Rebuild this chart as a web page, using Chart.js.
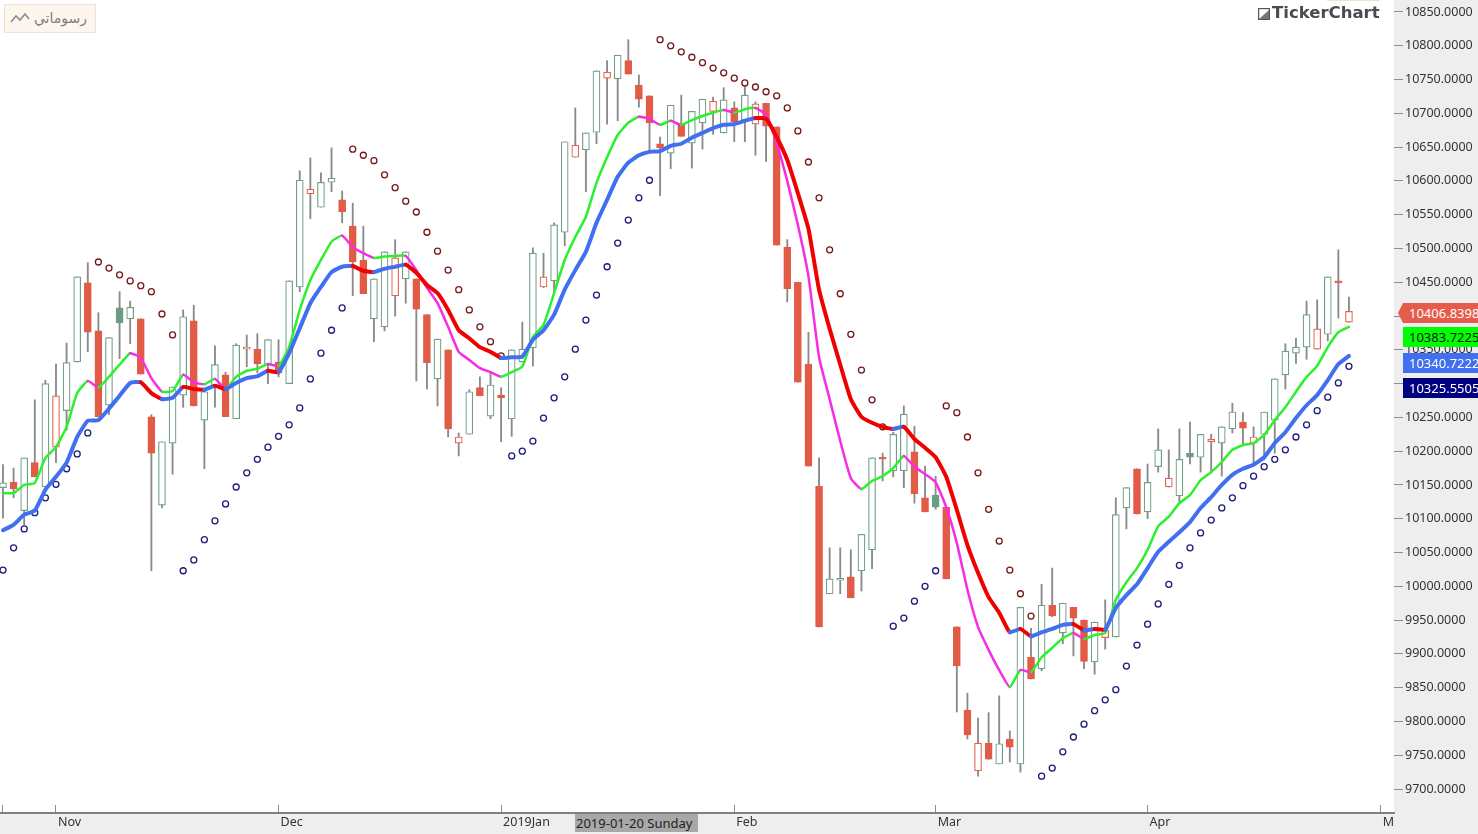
<!DOCTYPE html>
<html>
<head>
<meta charset="utf-8">
<title>TickerChart</title>
<script src="https://cdn.jsdelivr.net/npm/chart.js@4"></script>
<style>
    html, body { margin: 0; padding: 0; background: #fff; overflow: hidden; }
    #wrap { position: relative; width: 1478px; height: 834px; overflow: hidden; }
    canvas { position: absolute; left: 0; top: 0; }
    .tag {
        position: absolute; left: 1403px; width: 75px; height: 20px; line-height: 20px;
        padding-left: 6px; box-sizing: border-box; overflow: hidden; white-space: nowrap;
        font: 13px/20px "Noto Sans", sans-serif; color: #fff;
    }
    #myCharts {
        position: absolute; left: 4px; top: 4px; width: 90px; height: 27px; box-sizing: content-box;
        background: #fdf6ef; border: 1px solid #f3e2d2; color: #7d7d7d;
        font: 14px/27px "DejaVu Sans", sans-serif; text-align: right;
    }
    #myCharts span { margin-right: 8px; }
    #myCharts svg { position: absolute; left: 4px; top: 6px; }
    #logo {
        position: absolute; left: 1272px; top: 3px; color: #4b4b4b;
        font: bold 16.5px/20px "DejaVu Sans", sans-serif;
    }
    #logoIcon { position: absolute; left: 1258px; top: 8px; }
    #logoStrip { position: absolute; left: 1327px; top: 0; width: 53px; height: 1px; background: #f3e0cd; }
    #cursorDate {
        position: absolute; left: 575px; top: 814px; width: 123px; height: 18px;
        background: #a8a8a8; color: #222; white-space: nowrap; overflow: hidden;
        font: 13px/18px "Noto Sans", sans-serif; padding-left: 1px; box-sizing: border-box;
    }
</style>
</head>
<body>
<div id="wrap">
    <canvas id="chart" width="1478" height="834"></canvas>
    <div id="myCharts">
        <svg width="22" height="14" viewBox="0 0 22 14"><polyline points="2,11 7,5 11,9 16,3 20,8" fill="none" stroke="#8c8c8c" stroke-width="1.6"/></svg>
        <span dir="rtl">رسوماتي</span>
    </div>
    <svg id="logoIcon" width="12" height="12" viewBox="0 0 12 12"><rect x="0.5" y="0.5" width="11" height="11" fill="#fff" stroke="#555" stroke-width="1.4"/><polygon points="1,11 11,11 11,2" fill="#777"/></svg>
    <div id="logo">TickerChart</div>
    <div id="logoStrip"></div>
    <div id="cursorDate">2019-01-20 Sunday</div>
</div>

<script>
// Candles, left to right (g hollow green, G filled green, r filled red, R hollow red)
const candleKinds = [
    'g','r','g','r','g','R','g','g','r','r','g','G','g','r','r','g','g','g','r','g',
    'g','r','g','R','r','g','r','g','g','R','g','g','r','r','r','g','g','R','g','r',
    'r','g','r','R','g','r','g','r','g','g','g','R','g','g','R','g','g','R','g','r',
    'r','r','r','g','r','g','g','R','g','r','g','R','r','r','r','r','r','r','g','g',
    'r','g','g','r','g','g','r','r','G','r','r','r','R','r','g','r','g','r','g','r',
    'g','r','r','g','R','g','g','r','g','g','R','g','G','g','R','g','g','r','R','g',
    'g','g','g','g','R','g','r','R'
];
const opens = [
    10146,10154,10112,10183,10147,10206,10260,10332,10449,10378,10268,10412,10396,10396,10251,10120,10212,10283,10393,10246,
    10295,10313,10248,10351,10351,10328,10332,10300,10443,10581,10561,10598,10572,10533,10483,10396,10384,10430,10455,10455,
    10402,10307,10350,10212,10225,10294,10252,10283,10248,10332,10353,10443,10452,10524,10635,10646,10672,10752,10751,10778,
    10742,10726,10655,10641,10684,10656,10686,10703,10671,10708,10690,10684,10715,10680,10502,10450,10329,10148,9989,10009,
    10014,10023,10054,10191,10171,10171,10199,10131,10135,10117,9940,9817,9727,9768,9737,9774,9737,9895,9878,9972,
    9931,9969,9950,9888,9924,9925,10116,10174,10110,10177,10147,10134,10197,10191,10214,10212,10233,10243,10212,10225,
    10246,10313,10345,10354,10351,10373,10452,10391
];
const closes = [
    10153,10144,10190,10162,10300,10282,10331,10458,10376,10251,10368,10390,10413,10314,10197,10214,10295,10399,10267,10288,
    10328,10251,10357,10354,10329,10365,10316,10452,10601,10588,10598,10604,10554,10480,10433,10455,10495,10486,10495,10410,
    10331,10366,10233,10221,10288,10282,10298,10279,10350,10351,10493,10458,10535,10658,10653,10671,10763,10761,10786,10758,
    10721,10686,10649,10712,10666,10703,10721,10718,10720,10687,10727,10714,10681,10505,10440,10302,10178,9940,10011,10012,
    9983,10077,10190,10188,10225,10255,10137,10110,10117,10011,9882,9780,9768,9744,9767,9762,9969,9863,9972,9956,
    9975,9953,9889,9947,9935,10106,10146,10107,10154,10202,10160,10188,10191,10225,10218,10236,10258,10234,10221,10258,
    10307,10348,10354,10402,10381,10458,10449,10407
];
const highs = [
    10180,10175,10190,10276,10305,10329,10360,10458,10479,10405,10368,10436,10422,10396,10254,10214,10295,10409,10416,10288,
    10356,10317,10359,10372,10374,10365,10365,10452,10615,10634,10612,10649,10585,10567,10533,10455,10495,10513,10495,10455,
    10402,10366,10350,10227,10291,10310,10316,10294,10350,10391,10501,10493,10538,10658,10708,10671,10763,10778,10786,10809,
    10757,10726,10665,10712,10727,10703,10721,10724,10738,10717,10742,10717,10715,10680,10513,10450,10376,10190,10057,10057,
    10054,10077,10190,10197,10228,10267,10237,10178,10163,10117,9940,9842,9805,9813,9838,9786,9969,9938,10003,10027,
    9975,9969,9950,9947,9980,10131,10146,10174,10181,10233,10202,10233,10243,10225,10225,10236,10271,10257,10236,10258,
    10307,10359,10367,10422,10424,10458,10498,10428
];
const lows = [
    10101,10131,10091,10162,10147,10183,10231,10332,10347,10251,10254,10337,10359,10314,10023,10116,10166,10265,10267,10174,
    10265,10251,10248,10325,10316,10300,10310,10300,10436,10544,10561,10584,10538,10430,10433,10362,10378,10400,10419,10304,
    10292,10267,10221,10193,10225,10282,10248,10214,10222,10332,10326,10442,10437,10504,10635,10584,10655,10684,10689,10758,
    10709,10643,10578,10618,10666,10619,10647,10669,10671,10658,10658,10638,10629,10505,10421,10302,10178,9940,9989,9989,
    9983,9993,10026,10156,10162,10146,10123,10110,10114,10011,9814,9774,9719,9744,9737,9740,9725,9863,9875,9955,
    9915,9897,9878,9870,9907,9925,10085,10107,10100,10169,10147,10125,10181,10169,10168,10163,10227,10211,10182,10187,
    10197,10292,10330,10336,10351,10363,10397,10391
];

// Slow average, blue while rising and red while falling
const slowAvg = [
    10083,10091,10106,10112,10143,10162,10183,10221,10245,10246,10263,10282,10301,10302,10286,10277,10279,10295,10292,10291,
    10297,10292,10301,10308,10311,10319,10317,10345,10382,10419,10443,10465,10473,10474,10467,10465,10470,10473,10476,10464,
    10446,10434,10409,10379,10367,10354,10347,10338,10339,10340,10365,10379,10402,10439,10468,10495,10538,10572,10606,10627,
    10638,10643,10644,10652,10655,10664,10671,10678,10683,10684,10689,10693,10692,10665,10631,10582,10529,10439,10381,10328,
    10277,10251,10242,10236,10233,10236,10218,10205,10191,10162,10113,10061,10020,9984,9961,9932,9937,9926,9932,9937,
    9943,9944,9935,9937,9936,9968,9987,10003,10027,10051,10066,10080,10095,10116,10132,10150,10165,10174,10180,10191,
    10212,10228,10249,10268,10283,10305,10329,10341
];
// Fast average, green while rising and magenta while falling
const fastAvg = [
    10138,10138,10150,10153,10190,10206,10236,10286,10304,10294,10310,10328,10345,10338,10308,10288,10289,10313,10302,10299,
    10307,10292,10310,10319,10322,10329,10326,10354,10409,10453,10483,10510,10519,10502,10493,10486,10488,10489,10489,10468,
    10442,10419,10384,10347,10335,10323,10317,10310,10317,10325,10369,10387,10434,10483,10517,10547,10597,10635,10668,10686,
    10695,10692,10683,10689,10683,10690,10696,10701,10705,10701,10706,10708,10698,10656,10600,10535,10459,10339,10277,10215,
    10160,10144,10156,10163,10175,10193,10177,10166,10154,10117,10064,9995,9940,9906,9876,9851,9876,9873,9895,9909,
    9923,9931,9922,9928,9931,9980,10006,10027,10054,10089,10103,10123,10135,10157,10169,10184,10202,10209,10212,10224,
    10246,10265,10288,10310,10326,10354,10376,10384
];
// Parabolic SAR dots
const sarValues = [
    10024,10057,10085,10109,10131,10151,10174,10196,10227,10480,10471,10461,10452,10445,10436,10403,10372,10023,10039,10069,
    10097,10122,10147,10168,10188,10206,10222,10239,10264,10307,10345,10379,10412,10647,10638,10630,10609,10590,10570,10554,
    10524,10496,10468,10439,10409,10384,10362,10341,10193,10200,10215,10249,10279,10310,10351,10394,10431,10473,10508,10542,
    10575,10601,10809,10800,10791,10783,10775,10767,10760,10752,10745,10739,10732,10726,10708,10674,10628,10575,10498,10433,
    10373,10320,10276,10236,9941,9953,9978,10000,10023,10267,10257,10221,10168,10114,10067,10024,9989,9956,9719,9731,
    9755,9777,9796,9816,9832,9847,9882,9913,9944,9974,10003,10031,10057,10079,10098,10116,10131,10149,10163,10177,
    10188,10202,10221,10239,10260,10280,10301,10325.55
];

const monthIndex = [0, 5, 26, 47, 69, 88, 108, 130];
const monthLabels = ['', 'Nov', 'Dec', '2019Jan', 'Feb', 'Mar', 'Apr', 'M'];
const priceTicks = [
    9700,9750,9800,9850,9900,9950,10000,10050,10100,10150,10200,10250,
    10300,10350,10400,10450,10500,10550,10600,10650,10700,10750,10800,10850
];
const lastLabels = [10406.8398, 10383.7225, 10340.7222, 10325.5505];

const COLORS = {
    g: '#6f9f88', G: '#6b9c86', r: '#e25b46', R: '#e4654f',
    wick: '#8a8a8a', tick: '#8c8c8c', text: '#333333',
    blue: '#4070f0', red: '#f00000', green: '#2cf02c', magenta: '#f82ce4',
    sarUp: '#1c1c7c', sarDown: '#761818', axisBg: '#eeeeee'
};

const indexed = (values) => values.map((y, x) => ({ x, y }));
const isFilled = (kind) => kind === 'r' || kind === 'G';
// Plot runs right up to the window edges, so ignore the room Chart.js keeps for labels
const noPadding = () => ({ left: 0, right: 0, top: 0, bottom: 0 });

/**
 * Paint the grey axis strips behind the tick labels
 */
const axisBackground = {
    id: 'axisBackground',
    beforeDraw(chart) {
        const { ctx, chartArea, width, height } = chart;
        ctx.save();
        ctx.fillStyle = COLORS.axisBg;
        ctx.fillRect(chartArea.right, 0, width - chartArea.right, height);
        ctx.fillRect(0, chartArea.bottom, width, height - chartArea.bottom);
        ctx.restore();
    }
};

function averageDataset(values, upColor, downColor, width, order) {
    return {
        type: 'line',
        data: indexed(values),
        borderColor: upColor,
        borderWidth: width,
        borderCapStyle: 'round',
        borderJoinStyle: 'round',
        pointRadius: 0,
        tension: 0.15,
        order,
        segment: {
            borderColor: (ctx) => (ctx.p1.parsed.y >= ctx.p0.parsed.y ? upColor : downColor)
        }
    };
}

function drawChart() {
    new Chart(document.getElementById('chart'), {
        type: 'bar',
        data: {
            datasets: [
                averageDataset(slowAvg, COLORS.blue, COLORS.red, 4, 1),
                averageDataset(fastAvg, COLORS.green, COLORS.magenta, 2.5, 2),
                {
                    type: 'line',
                    data: indexed(sarValues),
                    showLine: false,
                    pointRadius: 3,
                    pointBorderWidth: 1.3,
                    pointBackgroundColor: '#ffffff',
                    pointBorderColor: (ctx) => (sarValues[ctx.dataIndex] > closes[ctx.dataIndex] ? COLORS.sarDown : COLORS.sarUp),
                    order: 3
                },
                {
                    data: closes.map((c, i) => ({ x: i, y: [opens[i], c] })),
                    grouped: false,
                    barThickness: 7,
                    borderWidth: 1.2,
                    borderSkipped: false,
                    borderColor: (ctx) => COLORS[candleKinds[ctx.dataIndex]],
                    backgroundColor: (ctx) => {
                        const kind = candleKinds[ctx.dataIndex];
                        return isFilled(kind) ? COLORS[kind] : '#ffffff';
                    },
                    order: 4
                },
                {
                    data: highs.map((h, i) => ({ x: i, y: [lows[i], h] })),
                    grouped: false,
                    barThickness: 1.2,
                    backgroundColor: COLORS.wick,
                    order: 5
                }
            ]
        },
        options: {
            responsive: false,
            animation: false,
            layout: { padding: 0, autoPadding: false },
            plugins: { legend: { display: false }, tooltip: { enabled: false } },
            events: [],
            scales: {
                x: {
                    type: 'linear',
                    min: -0.283,
                    max: 131.25,
                    offset: false,
                    afterBuildTicks: (scale) => { scale.ticks = monthIndex.map((value) => ({ value })); },
                    afterFit: (scale) => { scale.height = 21; scale.getPadding = noPadding; },
                    border: { color: '#808080', width: 2 },
                    grid: { offset: false, drawOnChartArea: false, tickLength: -8, color: COLORS.tick },
                    ticks: {
                        autoSkip: false,
                        maxRotation: 0,
                        align: 'start',
                        padding: 10,
                        labelOffset: 2,
                        color: COLORS.text,
                        font: { family: '"Noto Sans", sans-serif', size: 12.5 },
                        callback: (value) => monthLabels[monthIndex.indexOf(value)]
                    }
                },
                y: {
                    position: 'right',
                    min: 9664.5,
                    max: 10867.76,
                    afterBuildTicks: (scale) => { scale.ticks = priceTicks.map((value) => ({ value })); },
                    afterFit: (scale) => { scale.width = 84; scale.getPadding = noPadding; },
                    border: { display: false },
                    grid: { drawOnChartArea: false, tickLength: 9, color: COLORS.tick },
                    ticks: {
                        padding: 2,
                        color: COLORS.text,
                        font: { family: '"Noto Sans", sans-serif', size: 12.5 },
                        callback: (value) => value.toFixed(4)
                    }
                }
            }
        },
        plugins: [axisBackground]
    });
}

/**
 * Value boxes stacked on the price axis
 */
function drawTags() {
    const styles = [
        { top: 303, bg: '#e55c4a', fg: '#ffffff', left: 1398, pad: 11, clip: 'polygon(5px 0, 100% 0, 100% 100%, 5px 100%, 0 50%)' },
        { top: 327, bg: '#00ff00', fg: '#111111' },
        { top: 353, bg: '#4070f0', fg: '#ffffff' },
        { top: 378, bg: '#000080', fg: '#ffffff' }
    ];
    const wrap = document.getElementById('wrap');
    lastLabels.forEach((value, i) => {
        const s = styles[i];
        const tag = document.createElement('div');
        tag.className = 'tag';
        tag.textContent = value.toFixed(4);
        tag.style.top = `${s.top}px`;
        tag.style.background = s.bg;
        tag.style.color = s.fg;
        if (s.left) {
            tag.style.left = `${s.left}px`;
            tag.style.width = `${1478 - s.left}px`;
            tag.style.paddingLeft = `${s.pad}px`;
            tag.style.clipPath = s.clip;
        }
        wrap.appendChild(tag);
    });
}

drawChart();
drawTags();
</script>
</body>
</html>
